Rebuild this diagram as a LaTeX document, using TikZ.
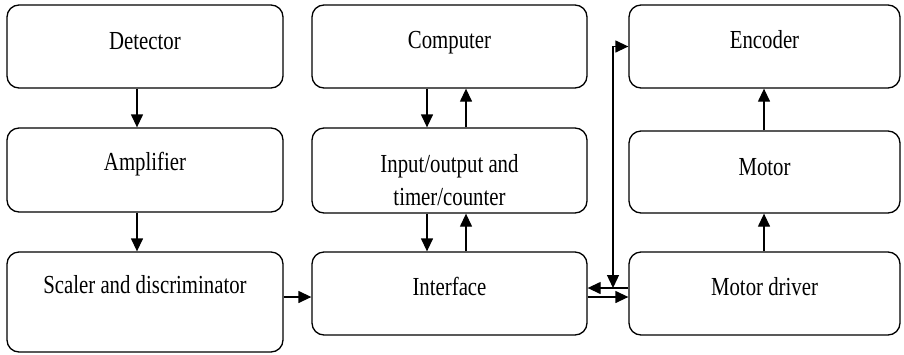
\documentclass[tikz,border=0pt]{standalone}
\usepackage{fontspec}
\setmainfont[FakeStretch=0.8]{Liberation Serif}
\usetikzlibrary{arrows.meta}
\begin{document}
\begin{tikzpicture}[x=1pt,y=-1pt,
  box/.style={draw, line width=1.3pt, rounded corners=12pt, inner sep=0pt},
  lbl/.style={inner sep=0pt, anchor=base, align=center, font=\fontsize{26}{33}\selectfont},
  arr/.style={line width=1.3pt, -{Triangle[length=13pt,width=12pt]}},
  arrb/.style={line width=1.3pt, {Triangle[length=13pt,width=12pt]}-{Triangle[length=13pt,width=12pt]}}]
\useasboundingbox (0,0) rectangle (904,354);
% boxes
\node[box, minimum width=276pt, minimum height=83pt] (det) at (145,46.5) {};
\node[box, minimum width=276pt, minimum height=84pt] (amp) at (145,170) {};
\node[box, minimum width=276pt, minimum height=100pt] (scal) at (145,302) {};
\node[box, minimum width=275pt, minimum height=83pt] (comp) at (449.5,46.5) {};
\node[box, minimum width=275pt, minimum height=85pt] (io) at (449.5,170.5) {};
\node[box, minimum width=275pt, minimum height=83pt] (intf) at (449.5,293.5) {};
\node[box, minimum width=271pt, minimum height=83pt] (enc) at (764.5,46.5) {};
\node[box, minimum width=271pt, minimum height=82pt] (mot) at (764.5,172) {};
\node[box, minimum width=271pt, minimum height=83pt] (drv) at (764.5,293.5) {};
% labels
\node[lbl] (tdet) at (145,49) {Detector};
\node[lbl] (tamp) at (145,170) {Amplifier};
\node[lbl] (tscal) at (145,293) {Scaler and discriminator};
\node[lbl] (tcomp) at (449.5,48) {Computer};
\node[lbl] (tio) at (449.5,205) {Input/output and\\timer/counter};
\node[lbl] (tintf) at (449.5,295) {Interface};
\node[lbl] (tenc) at (764.5,48) {Encoder};
\node[lbl] (tmot) at (764.5,175) {Motor};
\node[lbl] (tdrv) at (764.5,295) {Motor driver};
% left column
\draw[arr] ([xshift=-8pt]det.south) -- ([xshift=-8pt]amp.north);
\draw[arr] ([xshift=-8pt]amp.south) -- ([xshift=-8pt]scal.north);
\coordinate (s1) at ([yshift=5pt]scal.east);
\draw[arr] (s1) -- (s1 -| intf.west);
% middle column
\draw[arr] ([xshift=-22.5pt]comp.south) -- ([xshift=-22.5pt]io.north);
\draw[arr] ([xshift=16.5pt]io.north) -- ([xshift=16.5pt]comp.south);
\draw[arr] ([xshift=-22.5pt]io.south) -- ([xshift=-22.5pt]intf.north);
\draw[arr] ([xshift=16.5pt]intf.north) -- ([xshift=16.5pt]io.south);
% right column
\draw[arr] ([xshift=-0.5pt]drv.north) -- ([xshift=-0.5pt]mot.south);
\draw[arr] ([xshift=-0.5pt]mot.north) -- ([xshift=-0.5pt]enc.south);
% interface <-> motor driver
\coordinate (u1) at ([yshift=5.5pt]drv.west);
\draw[arr] (u1) -- (u1 -| intf.east);
\coordinate (l1) at ([yshift=-3.5pt]intf.east);
\draw[arr] (l1) -- (l1 -| drv.west);
\coordinate (vb) at (613,288);
\draw[arrb] (enc.west) -| (vb);
\end{tikzpicture}
\end{document}
